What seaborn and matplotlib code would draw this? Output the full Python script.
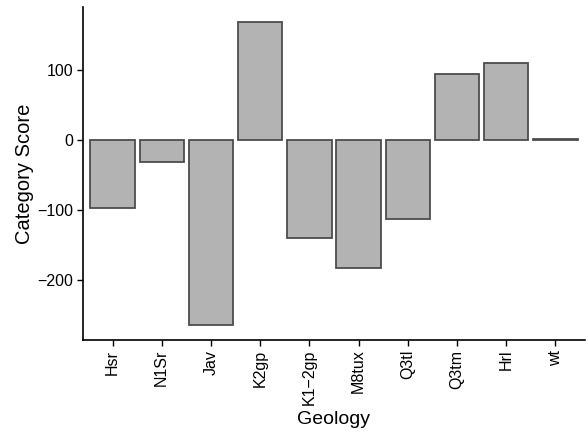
import pandas as pd
import matplotlib
matplotlib.use("Agg")
import matplotlib.pyplot as plt
import seaborn as sns

geology = ["Hsr", "N1Sr", "Jav", "K2gp", "K1\u22122gp", "M8tux", "Q3tl", "Q3tm", "Hrl", "wt"]
score = [-97, -31, -263, 168, -139, -183, -112, 94, 110, 2]

df = pd.DataFrame({"geology": geology, "score": score})

sns.set_style("ticks")
plt.rcParams["font.family"] = ["Liberation Sans", "DejaVu Sans"]

fig = plt.figure(figsize=(5.88, 4.36), dpi=100)
ax = fig.add_axes([83 / 588, 96 / 436, 502 / 588, 333 / 436])

sns.barplot(data=df, x="geology", y="score", ax=ax, color="#b3b3b3",
            saturation=1, width=0.9, edgecolor="#4d4d4d", linewidth=1.3,
            order=geology)

ax.set_xlim(-0.6, 9.6)
ax.set_ylim(-285, 190)
ax.set_yticks([-200, -100, 0, 100])
ax.set_yticklabels(["\u2212200", "\u2212100", "0", "100"])
ax.tick_params(axis="x", labelrotation=90)
ax.tick_params(labelsize=11.5, colors="black", length=4, width=1, pad=3)
ax.set_xlabel("Geology", fontsize=14, color="black", labelpad=4)
ax.set_ylabel("Category Score", fontsize=14.5, color="black", labelpad=2)

sns.despine(ax=ax)
for s in ["left", "bottom"]:
    ax.spines[s].set_linewidth(1.2)
    ax.spines[s].set_color("black")

fig.savefig("out.png", dpi=100)
